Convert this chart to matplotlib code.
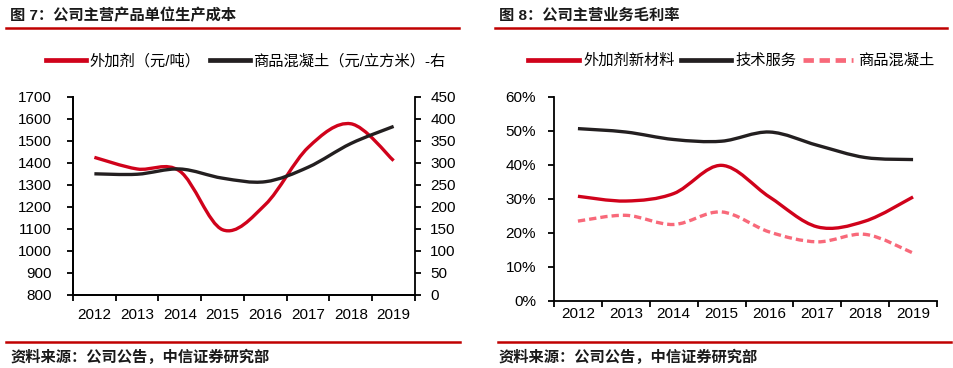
import numpy as np
import matplotlib
matplotlib.use("Agg")
import matplotlib.pyplot as plt
from matplotlib.path import Path
from matplotlib.patches import PathPatch
from matplotlib.lines import Line2D
from matplotlib.ticker import FuncFormatter

plt.rcParams['font.family'] = ['Liberation Sans', 'Noto Sans CJK SC']

years = ['2012', '2013', '2014', '2015', '2016', '2017', '2018', '2019']

# 图7 单位生产成本
admix_cost = [1425, 1372, 1362, 1095, 1210, 1470, 1578, 1410]      # 元/吨, 左轴
concrete_cost = [275, 274, 286, 265, 257, 290, 344, 383]           # 元/立方米, 右轴

# 图8 毛利率 (%)
admix_margin = [30.8, 29.4, 31.6, 39.9, 30.6, 21.8, 23.5, 30.6]
service_margin = [50.7, 49.7, 47.5, 47.0, 49.7, 45.8, 42.2, 41.6]
concrete_margin = [23.5, 25.2, 22.5, 26.2, 20.3, 17.4, 19.6, 14.1]

RED = '#D0021B'
BLACK = '#231F20'
PINK = '#F8697A'
LINE_RED = '#C00000'


def smooth_path(ax, ys, color, lw=2.4, ls='-'):
    # excel style smoothed line: cubic bezier through the data points
    x = np.arange(len(ys), dtype=float)
    y = np.asarray(ys, dtype=float)
    px = np.concatenate([[x[0]], x, [x[-1]]])
    py = np.concatenate([[y[0]], y, [y[-1]]])
    verts = [(x[0], y[0])]
    codes = [Path.MOVETO]
    for i in range(len(x) - 1):
        c1 = (x[i] + (px[i + 2] - px[i]) / 6, y[i] + (py[i + 2] - py[i]) / 6)
        c2 = (x[i + 1] - (px[i + 3] - px[i + 1]) / 6, y[i + 1] - (py[i + 3] - py[i + 1]) / 6)
        verts += [c1, c2, (x[i + 1], y[i + 1])]
        codes += [Path.CURVE4] * 3
    patch = PathPatch(Path(verts, codes), fill=False, edgecolor=color, lw=lw,
                      linestyle=ls, capstyle='butt', joinstyle='round')
    ax.add_patch(patch)
    return Line2D([], [], color=color, lw=lw + 1, linestyle=ls)


def style_x(ax):
    ax.set_xlim(-0.5, len(years) - 0.5)
    ax.set_xticks(range(len(years)))
    ax.set_xticklabels(years)
    ax.set_xticks(np.arange(-0.5, len(years)), minor=True)
    ax.tick_params(axis='x', which='major', length=0, labelsize=11)
    ax.tick_params(axis='x', which='minor', length=4, width=1.3, direction='out')
    for s in ax.spines.values():
        s.set_linewidth(1.3)
    ax.spines['top'].set_visible(False)


fig = plt.figure(figsize=(9.54, 3.68), dpi=100)
W, H = 954, 368

def fx(px):
    return px / W

def fy(py):
    return 1 - py / H

# ---------- left chart ----------
ax1 = fig.add_axes([fx(73), fy(294.5), fx(415 - 73), (294.5 - 97) / H])
ax1.set_ylim(800, 1700)
ax1.set_yticks(range(800, 1701, 100))
ax1.tick_params(axis='y', length=4, width=1.3, labelsize=11, pad=11)
style_x(ax1)
ax1.spines['right'].set_visible(False)
h1 = smooth_path(ax1, admix_cost, RED)

ax2 = ax1.twinx()
ax2.set_ylim(0, 450)
ax2.set_yticks(range(0, 451, 50))
ax2.tick_params(axis='y', length=4, width=1.3, labelsize=11, pad=7)
for s in ax2.spines.values():
    s.set_linewidth(1.3)
ax2.spines['top'].set_visible(False)
h2 = smooth_path(ax2, concrete_cost, BLACK)
ax1.tick_params(axis='x', which='major', pad=10)

fig.legend([h1, h2], ['外加剂（元/吨）', '商品混凝土（元/立方米）-右'],
           loc='center left', bbox_to_anchor=(fx(40), fy(61)), ncol=2,
           frameon=False, fontsize=11, handlelength=2.6, handletextpad=0.25,
           columnspacing=0.6, borderaxespad=0)

# ---------- right chart ----------
ax3 = fig.add_axes([fx(554), fy(301), fx(937 - 554), (301 - 97) / H])
ax3.set_ylim(0, 60)
ax3.set_yticks(range(0, 61, 10))
ax3.yaxis.set_major_formatter(FuncFormatter(lambda v, p: '%d%%' % v))
ax3.tick_params(axis='y', length=4, width=1.3, labelsize=11, pad=9)
style_x(ax3)
ax3.spines['right'].set_visible(False)
ax3.tick_params(axis='x', which='major', pad=4)
h3 = smooth_path(ax3, admix_margin, RED)
h4 = smooth_path(ax3, service_margin, BLACK)
h5 = smooth_path(ax3, concrete_margin, PINK, ls=(0, (2.2, 1.2)))

fig.legend([h3, h4, h5], ['外加剂新材料', '技术服务', '商品混凝土'],
           loc='center left', bbox_to_anchor=(fx(522), fy(61)), ncol=3,
           frameon=False, fontsize=11, handlelength=3.3, handletextpad=0.3,
           columnspacing=0.4, borderaxespad=0)

# ---------- titles, rules, sources ----------
fig.text(fx(10), fy(15.5), '图 7：公司主营产品单位生产成本', fontsize=11, fontweight='bold',
         va='center', ha='left', color='#1a1a1a')
fig.text(fx(499), fy(15.5), '图 8：公司主营业务毛利率', fontsize=11, fontweight='bold',
         va='center', ha='left', color='#1a1a1a')
for x0, x1 in [(6, 459), (495, 947)]:
    fig.add_artist(Line2D([fx(x0), fx(x1)], [fy(27.7), fy(27.7)], color=LINE_RED, lw=1.8))
for x0, x1 in [(6, 460), (498, 951)]:
    fig.add_artist(Line2D([fx(x0), fx(x1)], [fy(341.7), fy(341.7)], color=LINE_RED, lw=1.8))
fig.text(fx(11), fy(357), '资料来源：公司公告，中信证券研究部', fontsize=11, fontweight='bold',
         va='center', ha='left', color='#1a1a1a')
fig.text(fx(499), fy(357), '资料来源：公司公告，中信证券研究部', fontsize=11, fontweight='bold',
         va='center', ha='left', color='#1a1a1a')

fig.savefig('out.png', dpi=100)
